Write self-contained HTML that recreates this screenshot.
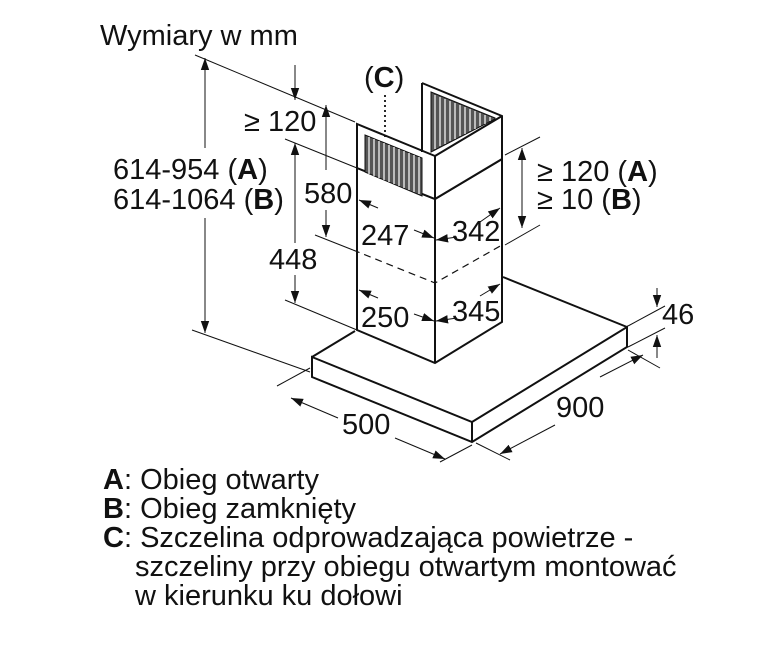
<!DOCTYPE html>
<html><head><meta charset="utf-8"><style>
html,body{margin:0;padding:0;background:#fff;}
svg{display:block;}
text{font-family:"Liberation Sans",sans-serif;fill:#111;}
</style></head><body>
<svg width="778" height="656" viewBox="0 0 778 656" xmlns="http://www.w3.org/2000/svg">
<defs>
<marker id="a" viewBox="0 0 10 10" refX="10" refY="5" markerWidth="12" markerHeight="12" markerUnits="userSpaceOnUse" orient="auto"><path d="M0,1.5 L10,5 L0,8.5z" fill="#111"/></marker>
</defs>
<g stroke="#111" fill="none">
<path d="M312,357 L472,422 L627,327 L627,347 L472,442 L312,377 Z" fill="#fff" stroke-width="2"/>
<path d="M472,422 L472,442" stroke-width="2"/>
<path d="M312,357 L355,331 M503,277 L627,327" stroke-width="2"/>
<path d="M357,168 L435,199 L502,159 L502,322 L435,363 L357,330 Z" fill="#fff" stroke-width="2"/>
<path d="M435,199 L435,363" stroke-width="2"/>
<path d="M422,83 L502,116 L502,159 L435,199 L357,168 L357,124 L435,156 L435,199" fill="#fff" stroke-width="2"/>
<path d="M422,83 L422,152 M435,156 L502,116" stroke-width="2"/>
<path d="M365,135 L422,158 L422,196 L365,172 Z" fill="#555" stroke-width="1"/>
<path d="M431,92 L495,118 L495,119 L431,152 Z" fill="#555" stroke-width="1"/>
<g stroke="#fff" stroke-width="1.2">
<path d="M369,137V174 M374,139V176 M379,141V178 M384,143V180 M389,145V182 M394,147V184 M399,149V186 M404,151V188 M409,153V190 M414,155V192 M419,157V194"/>
<path d="M435,95V149 M440,97V146 M445,99V144 M450,101V141 M455,103V139 M460,105V136 M465,107V134 M470,109V131 M475,111V129 M480,113V126 M485,115V124 M490,117V121"/>
</g>
<path d="M353,250 L435,283 L502,245" stroke-dasharray="7,5" stroke-width="1.2"/>
<path d="M385,95 L385,140" stroke-dasharray="2,3" stroke-width="1.8"/>
<g stroke-width="1">
<path d="M195,55 L355,122 M192,330 L310,372 M285,139 L357,168 M315,235 L353,250 M285,300 L357,330"/>
<path d="M505,155 L540,137 M505,245 L540,225"/>
<path d="M628,326 L665,306 M628,347 L665,328 M628,350 L660,368"/>
<path d="M310,368 L277,386 M472,445 L440,462 M476,443 L510,460"/>
</g>
<g stroke-width="1" marker-end="url(#a)">
<path d="M205,148 L205,58"/><path d="M205,218 L205,333"/>
<path d="M295,65 L295,100"/>
<path d="M326,170 L326,105"/><path d="M326,210 L326,237"/>
<path d="M295,243 L295,143"/><path d="M295,275 L295,303"/>
<path d="M522,190 L522,148"/><path d="M522,190 L522,228"/>
<path d="M378,208 L359,200"/><path d="M414,230 L434,238"/>
<path d="M480,222 L500,208"/>
<path d="M457,237 L436,240"/>
<path d="M378,298 L359,290"/><path d="M414,314 L434,321"/>
<path d="M480,296 L500,284"/>
<path d="M457,318 L436,321"/>
<path d="M657,288 L657,307"/><path d="M657,358 L657,335"/>
<path d="M338,418 L291,398"/><path d="M395,438 L445,459"/>
<path d="M600,377 L643,355"/><path d="M555,425 L500,454"/>
</g>
</g>
<g font-size="29">
<text x="100" y="45">Wymiary w mm</text>
<text x="364" y="87">(<tspan font-weight="bold">C</tspan>)</text>
<text x="244" y="131">≥ 120</text>
<text x="113" y="179">614-954 (<tspan font-weight="bold">A</tspan>)</text>
<text x="113" y="209">614-1064 (<tspan font-weight="bold">B</tspan>)</text>
<text x="304" y="203">580</text>
<text x="269" y="269">448</text>
<text x="361" y="245">247</text>
<text x="452" y="241">342</text>
<text x="361" y="327">250</text>
<text x="452" y="321">345</text>
<text x="537" y="181">≥ 120 (<tspan font-weight="bold">A</tspan>)</text>
<text x="537" y="209">≥ 10 (<tspan font-weight="bold">B</tspan>)</text>
<text x="662" y="324">46</text>
<text x="342" y="434">500</text>
<text x="556" y="417">900</text>
<text x="103" y="489"><tspan font-weight="bold">A</tspan>: Obieg otwarty</text>
<text x="103" y="518"><tspan font-weight="bold">B</tspan>: Obieg zamknięty</text>
<text x="103" y="547"><tspan font-weight="bold">C</tspan>: Szczelina odprowadzająca powietrze -</text>
<text x="135" y="576">szczeliny przy obiegu otwartym montować</text>
<text x="135" y="605">w kierunku ku dołowi</text>
</g>
</svg>
</body></html>
